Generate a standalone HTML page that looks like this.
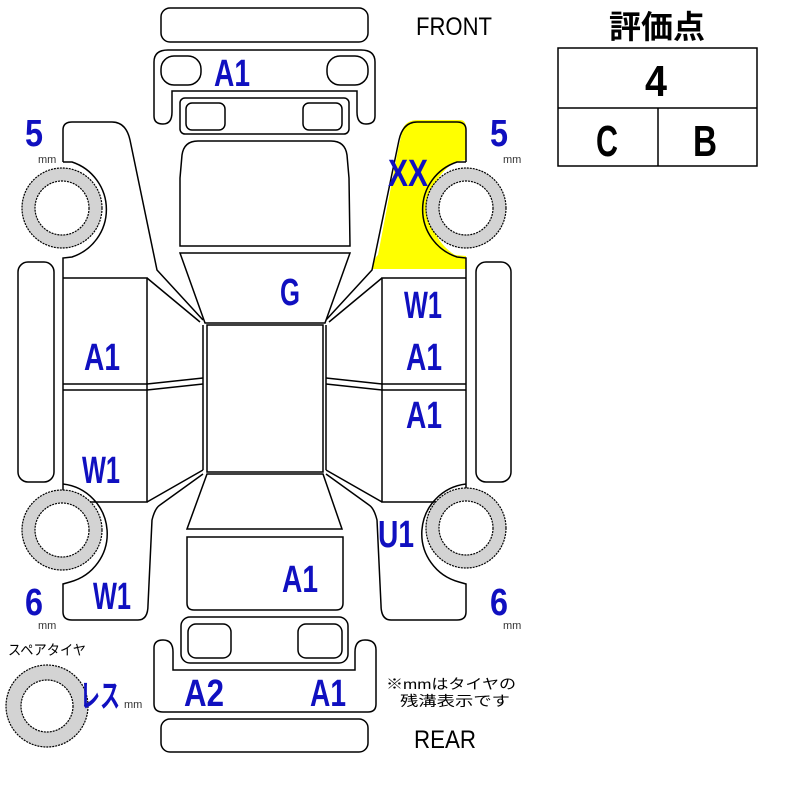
<!DOCTYPE html>
<html><head><meta charset="utf-8"><style>
html,body{margin:0;padding:0;background:#fff;}
svg{display:block}
.l{font-family:"Liberation Sans",sans-serif;font-weight:bold;fill:#1010c0;font-size:38px}
.s{font-family:"Liberation Sans",sans-serif;fill:#333;font-size:11px}
</style></head><body>
<svg width="800" height="800" viewBox="0 0 800 800" xmlns="http://www.w3.org/2000/svg">
<g fill="none" stroke="#000" stroke-width="1.5">
<path d="M403,128 Q407,120 418,120 L460,120 Q466,120 466,128 L466,160 L455,162 A55,55 0 0 0 455,255 L466,256 L466,269 L373,269 Q374,258 378,255 L398,150 Z" fill="#ffff00" stroke="none"/>
<rect x="161" y="8" width="207" height="34" rx="9"/>
<path d="M163,124 Q154,124 154,116 L154,62 Q154,50 168,50 L361,50 Q375,50 375,62 L375,116 Q375,124 366,124 Q357,124 357,112 L357,91 L172,91 L172,112 Q172,124 163,124 Z"/>
<rect x="161" y="56" width="40" height="29" rx="13"/>
<rect x="327" y="56" width="41" height="29" rx="13"/>
<rect x="180" y="98" width="169" height="36" rx="5"/>
<rect x="186" y="103" width="39" height="27" rx="6"/>
<rect x="303" y="103" width="39" height="27" rx="6"/>
<path d="M180,246 L180,178 L182,155 Q184,141 198,141 L331,141 Q345,141 347,155 L349,178 L350,246 Z"/>
<path d="M180,253 L350,253 L325,323 L205,323 Z"/>
<rect x="207" y="325" width="116" height="147"/>
<path d="M207,474 L323,474 L342,529 L187,529 Z"/>
<path d="M187,537 L343,537 L343,603 Q343,610 336,610 L194,610 Q187,610 187,603 Z"/>
<rect x="181" y="617" width="167" height="46" rx="9"/>
<rect x="188" y="624" width="43" height="34" rx="8"/>
<rect x="298" y="624" width="44" height="34" rx="8"/>
<path d="M154,648 Q154,640 163,640 Q173,640 173,652 L173,670 L355,670 L355,652 Q355,640 365,640 Q376,640 376,650 L376,704 Q376,712 368,712 L163,712 Q154,712 154,704 Z"/>
<rect x="161" y="719" width="207" height="33" rx="9"/>
<rect x="18" y="262" width="36" height="220" rx="10"/>
<rect x="476" y="262" width="35" height="220" rx="10"/>
<g>
<path d="M63,162 L63,130 Q63,122 72,122 L112,122 Q126,122 130,140 L157,270 L203,320"/>
<path d="M63,162 L72,162 A50,50 0 0 1 72,257 L63,258 L63,502"/>
<path d="M63,278 L147,278 L147,502 L63,502"/>
<path d="M63,384 L147,384 M63,390 L147,390"/>
<path d="M147,278 L200,322 M147,384 L203,378 M147,390 L203,384 M147,502 L203,470"/>
<path d="M63,484 A50,50 0 0 1 70,582 L63,584 L63,612 Q63,620 72,620 L138,620 Q148,620 148,605 L152,520 Q155,508 160,505 L203,474"/>
<path d="M203,325 L203,470" />
</g>
<g transform="translate(529,0) scale(-1,1)">
<path d="M63,162 L63,130 Q63,122 72,122 L112,122 Q126,122 130,140 L157,270 L203,320"/>
<path d="M63,162 L72,162 A50,50 0 0 1 72,257 L63,258 L63,502"/>
<path d="M63,278 L147,278 L147,502 L63,502"/>
<path d="M63,384 L147,384 M63,390 L147,390"/>
<path d="M147,278 L200,322 M147,384 L203,378 M147,390 L203,384 M147,502 L203,470"/>
<path d="M63,484 A50,50 0 0 1 70,582 L63,584 L63,612 Q63,620 72,620 L138,620 Q148,620 148,605 L152,520 Q155,508 160,505 L203,474"/>
<path d="M203,325 L203,470" />
</g>
<g stroke="#000" stroke-width="1.2" stroke-dasharray="2 1">
<circle cx="62" cy="208" r="40" fill="#d3d3d3"/><circle cx="62" cy="208" r="27" fill="#fff"/>
<circle cx="62" cy="530" r="40" fill="#d3d3d3"/><circle cx="62" cy="530" r="27" fill="#fff"/>
<circle cx="466" cy="208" r="40" fill="#d3d3d3"/><circle cx="466" cy="208" r="27" fill="#fff"/>
<circle cx="466" cy="528" r="40" fill="#d3d3d3"/><circle cx="466" cy="528" r="27" fill="#fff"/>
<circle cx="47" cy="706" r="41" fill="#d3d3d3"/><circle cx="47" cy="706" r="26" fill="#fff"/>
</g>
<rect x="558" y="48" width="199" height="118"/>
<path d="M558,108 L757,108 M658,108 L658,166"/>
</g>
<g font-family="Liberation Sans, sans-serif">
<text x="416" y="35" font-size="25" textLength="76" lengthAdjust="spacingAndGlyphs">FRONT</text>
<text x="414" y="748" font-size="25" textLength="62" lengthAdjust="spacingAndGlyphs">REAR</text>
<text x="657" y="38" font-size="32" font-weight="bold" text-anchor="middle" font-family="Liberation Sans, Noto Sans CJK JP, sans-serif">評価点</text>
<text x="656" y="96" font-size="44" font-weight="bold" text-anchor="middle" textLength="22" lengthAdjust="spacingAndGlyphs">4</text>
<text x="607" y="156" font-size="44" font-weight="bold" text-anchor="middle" textLength="22" lengthAdjust="spacingAndGlyphs">C</text>
<text x="705" y="156" font-size="44" font-weight="bold" text-anchor="middle" textLength="24" lengthAdjust="spacingAndGlyphs">B</text>
</g>
<g class="l">
<text x="214" y="86" textLength="36" lengthAdjust="spacingAndGlyphs">A1</text>
<text x="25" y="146" textLength="18" lengthAdjust="spacingAndGlyphs">5</text>
<text x="490" y="146" textLength="18" lengthAdjust="spacingAndGlyphs">5</text>
<text x="388" y="186" textLength="40" lengthAdjust="spacingAndGlyphs">XX</text>
<text x="280" y="305" textLength="20" lengthAdjust="spacingAndGlyphs">G</text>
<text x="404" y="318" textLength="38" lengthAdjust="spacingAndGlyphs">W1</text>
<text x="84" y="370" textLength="36" lengthAdjust="spacingAndGlyphs">A1</text>
<text x="406" y="370" textLength="36" lengthAdjust="spacingAndGlyphs">A1</text>
<text x="406" y="428" textLength="36" lengthAdjust="spacingAndGlyphs">A1</text>
<text x="82" y="483" textLength="38" lengthAdjust="spacingAndGlyphs">W1</text>
<text x="378" y="547" textLength="36" lengthAdjust="spacingAndGlyphs">U1</text>
<text x="282" y="592" textLength="36" lengthAdjust="spacingAndGlyphs">A1</text>
<text x="93" y="609" textLength="38" lengthAdjust="spacingAndGlyphs">W1</text>
<text x="25" y="615" textLength="18" lengthAdjust="spacingAndGlyphs">6</text>
<text x="490" y="615" textLength="18" lengthAdjust="spacingAndGlyphs">6</text>
<text x="184" y="706" textLength="40" lengthAdjust="spacingAndGlyphs">A2</text>
<text x="310" y="706" textLength="36" lengthAdjust="spacingAndGlyphs">A1</text>
<text x="80" y="707" font-size="32" textLength="40" lengthAdjust="spacingAndGlyphs" font-family="Liberation Sans, Noto Sans CJK JP, sans-serif">レス</text>
</g>
<g class="s">
<text x="38" y="163">mm</text>
<text x="503" y="163">mm</text>
<text x="38" y="629">mm</text>
<text x="503" y="629">mm</text>
<text x="124" y="708">mm</text>
<text x="8" y="655" font-size="14" font-family="Liberation Sans, Noto Sans CJK JP, sans-serif" fill="#000" textLength="78" lengthAdjust="spacingAndGlyphs">スペアタイヤ</text>
<text x="386" y="689" font-size="14" font-family="Liberation Sans, Noto Sans CJK JP, sans-serif" fill="#000" textLength="130" lengthAdjust="spacingAndGlyphs">※mmはタイヤの</text>
<text x="400" y="706" font-size="14" font-family="Liberation Sans, Noto Sans CJK JP, sans-serif" fill="#000" textLength="110" lengthAdjust="spacingAndGlyphs">残溝表示です</text>
</g>
</svg>
</body></html>
